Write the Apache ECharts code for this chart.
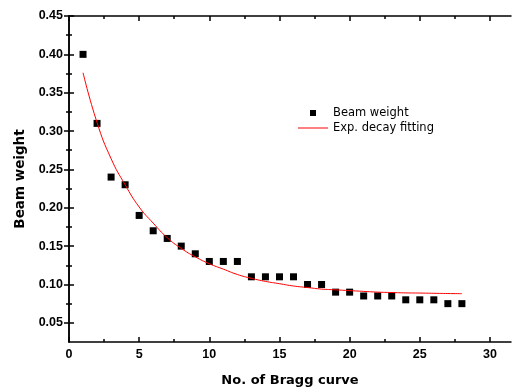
<!DOCTYPE html>
<html>
<head>
<meta charset="utf-8">
<script src="https://cdn.jsdelivr.net/npm/echarts@6/dist/echarts.min.js"></script>
<style>
  html, body { margin: 0; padding: 0; background: #fff; }
  #chart { width: 512px; height: 392px; }
</style>
</head>
<body>
<div id="chart"></div>
<script>
// data
const curveNo = [1, 2, 3, 4, 5, 6, 7, 8, 9, 10, 11, 12, 13, 14, 15, 16, 17, 18, 19, 20, 21, 22, 23, 24, 25, 26, 27, 28];
const beamWeight = [0.40, 0.31, 0.24, 0.23, 0.19, 0.17, 0.16, 0.15, 0.14, 0.13, 0.13, 0.13, 0.11, 0.11,
  0.11, 0.11, 0.10, 0.10, 0.09, 0.09, 0.085, 0.085, 0.085, 0.08, 0.08, 0.08, 0.075, 0.075];
const fitValues = [0.376, 0.311, 0.264, 0.230, 0.201, 0.180, 0.161, 0.147, 0.136, 0.127, 0.120, 0.113, 0.108, 0.104,
  0.101, 0.098, 0.096, 0.094, 0.093, 0.092, 0.091, 0.090, 0.0895, 0.089, 0.0888, 0.0885, 0.0882, 0.088];
const xMajorTicks = [0, 5, 10, 15, 20, 25, 30];
const xMinorTicks = [2.5, 7.5, 12.5, 17.5, 22.5, 27.5];
const yMajorTicks = [0.05, 0.10, 0.15, 0.20, 0.25, 0.30, 0.35, 0.40, 0.45];
const yMinorTicks = [0.075, 0.125, 0.175, 0.225, 0.275, 0.325, 0.375, 0.425];

const X_MIN = 0, X_MAX = 31.5;
const Y_MIN = 0.025, Y_MAX = 0.45;

const chart = echarts.init(document.getElementById('chart'));

// plain frame axis: line + inward ticks, no labels
const frameAxis = (position, min, max, ticks, len, showLine) => ({
  type: 'value',
  position: position,
  min: min,
  max: max,
  axisLine: { show: showLine, lineStyle: { color: '#000', width: 1.5 } },
  axisTick: {
    show: true,
    inside: true,
    length: len,
    customValues: ticks,
    lineStyle: { color: '#000', width: 1.5 },
  },
  axisLabel: { show: false },
  splitLine: { show: false },
});

const tickFont = { fontFamily: 'Liberation Sans', fontWeight: 'bold', fontSize: 12.5, color: '#000' };
const nameFont = { fontFamily: 'DejaVu Sans', fontWeight: 'bold', fontSize: 13, color: '#000' };

const xMain = frameAxis('bottom', X_MIN, X_MAX, xMajorTicks, 5, true);
xMain.axisLabel = { show: true, customValues: xMajorTicks, margin: 6, ...tickFont };
xMain.name = 'No. of Bragg curve';
xMain.nameLocation = 'middle';
xMain.nameGap = 32;
xMain.nameTextStyle = nameFont;

const yMain = frameAxis('left', Y_MIN, Y_MAX, yMajorTicks, 5, true);
yMain.axisLabel = {
  show: true,
  customValues: yMajorTicks,
  margin: 6,
  formatter: (v) => v.toFixed(2),
  ...tickFont,
};
yMain.name = 'Beam weight';
yMain.nameLocation = 'middle';
yMain.nameGap = 42;
yMain.nameTextStyle = { ...nameFont, fontSize: 13.5 };

chart.setOption({
  animation: false,
  backgroundColor: '#fff',
  grid: { left: 69, right: 1, top: 16, bottom: 47 },
  legend: {
    orient: 'vertical',
    left: 293,
    top: 102,
    itemWidth: 30,
    itemHeight: 6,
    itemGap: 3,
    symbolKeepAspect: true,
    textStyle: { fontFamily: 'DejaVu Sans', fontSize: 11.5, color: '#000' },
    data: [
      { name: 'Beam weight', icon: 'path://M0,0h1v1h-1z' },
      { name: 'Exp. decay fitting', icon: 'path://M0,0h30v1h-30z' },
    ],
  },
  xAxis: [
    xMain,
    frameAxis('bottom', X_MIN, X_MAX, xMinorTicks, 3, false),
    frameAxis('top', X_MIN, X_MAX, xMajorTicks, 5, true),
    frameAxis('top', X_MIN, X_MAX, xMinorTicks, 3, false),
  ],
  yAxis: [
    yMain,
    frameAxis('left', Y_MIN, Y_MAX, yMinorTicks, 3, false),
    frameAxis('right', Y_MIN, Y_MAX, yMajorTicks, 5, true),
    frameAxis('right', Y_MIN, Y_MAX, yMinorTicks, 3, false),
  ],
  series: [
    {
      name: 'Beam weight',
      type: 'scatter',
      xAxisIndex: 0,
      yAxisIndex: 0,
      symbol: 'rect',
      symbolSize: 7,
      itemStyle: { color: '#000', opacity: 1 },
      data: curveNo.map((n, i) => [n, beamWeight[i]]),
    },
    {
      name: 'Exp. decay fitting',
      type: 'line',
      xAxisIndex: 0,
      yAxisIndex: 0,
      smooth: true,
      symbol: 'none',
      lineStyle: { color: '#f00', width: 1 },
      itemStyle: { color: '#f00' },
      data: curveNo.map((n, i) => [n, fitValues[i]]),
    },
  ],
});
</script>
</body>
</html>
